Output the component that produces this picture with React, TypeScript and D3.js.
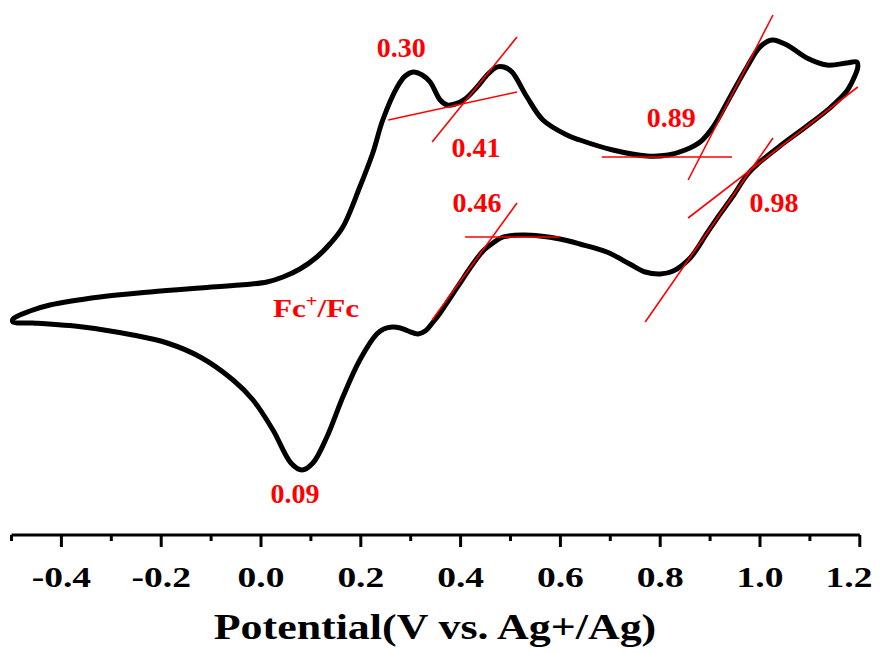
import React from 'react';
import * as d3 from 'd3';

// Cyclic voltammogram (current in arbitrary units)
const forwardPotential = [
  -0.497, -0.463, -0.423, -0.323, -0.222, -0.122, -0.042, 0.012, 0.044, 0.078,
  0.112, 0.138, 0.164, 0.198, 0.224, 0.244, 0.273, 0.289, 0.305, 0.323,
  0.339, 0.359, 0.373, 0.389, 0.409, 0.433, 0.455, 0.473, 0.487, 0.503,
  0.533, 0.565, 0.613, 0.639, 0.705, 0.774, 0.816, 0.85, 0.88, 0.906,
  0.94, 0.974, 1.0, 1.024, 1.054, 1.094, 1.134, 1.174, 1.194,
];
const forwardCurrent = [
  0.1, 0.9, 1.5, 2.3, 2.8, 3.2, 3.5, 3.8, 4.3, 5.1,
  6.3, 7.6, 9.3, 13.3, 16.7, 20.0, 23.3, 24.4, 24.8, 24.5,
  23.8, 22.0, 21.5, 21.6, 22.1, 23.3, 24.6, 25.3, 25.3, 24.8,
  22.3, 20.0, 18.5, 18.0, 17.0, 16.4, 16.5, 17.0, 17.8, 19.3,
  22.3, 25.3, 27.3, 28.0, 27.5, 26.2, 25.5, 25.7, 25.8,
];
const reversePotential = [
  1.196, 1.19, 1.174, 1.14, 1.094, 1.04, 1.0, 0.974, 0.946, 0.92,
  0.894, 0.86, 0.826, 0.8, 0.77, 0.739, 0.693, 0.639, 0.599, 0.559,
  0.525, 0.485, 0.465, 0.445, 0.419, 0.399, 0.379, 0.359, 0.345, 0.329,
  0.315, 0.295, 0.279, 0.263, 0.246, 0.232, 0.198, 0.164, 0.132, 0.104,
  0.082, 0.06, 0.024, -0.016, -0.056, -0.122, -0.188, -0.257, -0.357, -0.457,
  -0.497,
];
const reverseCurrent = [
  25.3, 24.4, 22.9, 21.2, 19.4, 17.4, 15.8, 14.5, 12.4, 10.6,
  8.7, 6.2, 4.9, 4.6, 4.8, 5.6, 6.8, 7.6, 8.1, 8.4,
  8.5, 8.3, 7.7, 6.9, 5.2, 3.7, 2.2, 0.7, -0.2, -1.1,
  -1.4, -1.1, -0.8, -0.7, -0.9, -1.4, -4.0, -7.7, -11.7, -14.3,
  -15.0, -14.3, -11.0, -8.0, -6.0, -3.7, -2.3, -1.5, -0.7, -0.3,
  -0.2,
];

// red tangent lines: [E1, I1, E2, I2]
const tangents: [number, number, number, number][] = [
  [0.255, 20.0, 0.513, 22.8],
  [0.343, 17.8, 0.513, 28.3],
  [0.343, 0.0, 0.513, 11.7],
  [0.409, 8.3, 0.599, 8.3],
  [0.683, 16.3, 0.944, 16.3],
  [0.856, 14.0, 1.026, 30.5],
  [0.77, -0.2, 1.026, 18.2],
  [0.856, 10.2, 1.196, 23.3],
];

const labelText = ['0.30', '0.41', '0.46', '0.89', '0.98', '0.09'];
const labelE = [0.281, 0.431, 0.433, 0.822, 1.028, 0.068];
const labelI = [26.3, 16.3, 10.8, 19.3, 10.8, -18.3];

const xTickMajor = [-0.4, -0.2, 0.0, 0.2, 0.4, 0.6, 0.8, 1.0, 1.2];
const xTickMinor = [-0.5, -0.3, -0.1, 0.1, 0.3, 0.5, 0.7, 0.9, 1.1];

const W = 887;
const H = 653;
const RED = '#ff0000';
const FONT = '"Liberation Serif", "Times New Roman", serif';

export default function App() {
  const x = d3.scaleLinear().domain([-0.5, 1.2]).range([11.5, 859.8]);
  const y = d3.scaleLinear().domain([-20, 32]).range([520, 0]);
  const axisY = 535;

  const pts: [number, number][] = [
    ...forwardPotential.map((e, i) => [e, forwardCurrent[i]] as [number, number]),
    ...reversePotential.map((e, i) => [e, reverseCurrent[i]] as [number, number]),
  ];
  const line = d3
    .line<[number, number]>()
    .x((d) => x(d[0]))
    .y((d) => y(d[1]))
    .curve(d3.curveCatmullRomClosed.alpha(0.5));

  return (
    <svg width={W} height={H} style={{ position: 'absolute', left: 0, top: 0, background: '#fff' }}>
      {/* CV trace */}
      <path d={line(pts) || ''} fill="none" stroke="#000" strokeWidth={5} strokeLinejoin="round" />

      {/* tangent lines */}
      {tangents.map((t, i) => (
        <line key={i} x1={x(t[0])} y1={y(t[1])} x2={x(t[2])} y2={y(t[3])} stroke={RED} strokeWidth={1.6} />
      ))}

      {/* peak labels */}
      {labelText.map((s, i) => (
        <text key={s} x={x(labelE[i])} y={y(labelI[i])} textAnchor="middle" fill={RED}
          fontFamily={FONT} fontWeight="bold" fontSize={28}>
          {s}
        </text>
      ))}
      <g transform={`translate(${x(0.024)},${y(0.3)}) scale(1.2,1)`}>
        <text fill={RED} fontFamily={FONT} fontWeight="bold" fontSize={26}>
          Fc<tspan fontSize={17} dy={-10}>+</tspan><tspan dy={10}>/Fc</tspan>
        </text>
      </g>

      {/* x axis */}
      <line x1={x(-0.5)} x2={x(1.2)} y1={axisY} y2={axisY} stroke="#000" strokeWidth={3} />
      {xTickMajor.map((v) => (
        <line key={'M' + v} x1={x(v)} x2={x(v)} y1={axisY} y2={axisY + 12} stroke="#000" strokeWidth={3} />
      ))}
      {xTickMinor.map((v) => (
        <line key={'m' + v} x1={x(v)} x2={x(v)} y1={axisY} y2={axisY + 6} stroke="#000" strokeWidth={3} />
      ))}
      {xTickMajor.map((v) => (
        <g key={'t' + v} transform={`translate(${Math.min(x(v), W - 38)},587) scale(1.25,1)`}>
          <text textAnchor="middle" fontFamily={FONT} fontWeight="bold" fontSize={30} fill="#000">
            {d3.format('.1f')(v).replace('−', '-')}
          </text>
        </g>
      ))}
      <g transform={`translate(435,639) scale(1.22,1)`}>
        <text textAnchor="middle" fontFamily={FONT} fontWeight="bold" fontSize={36} fill="#000">
          Potential(V vs. Ag+/Ag)
        </text>
      </g>
    </svg>
  );
}
